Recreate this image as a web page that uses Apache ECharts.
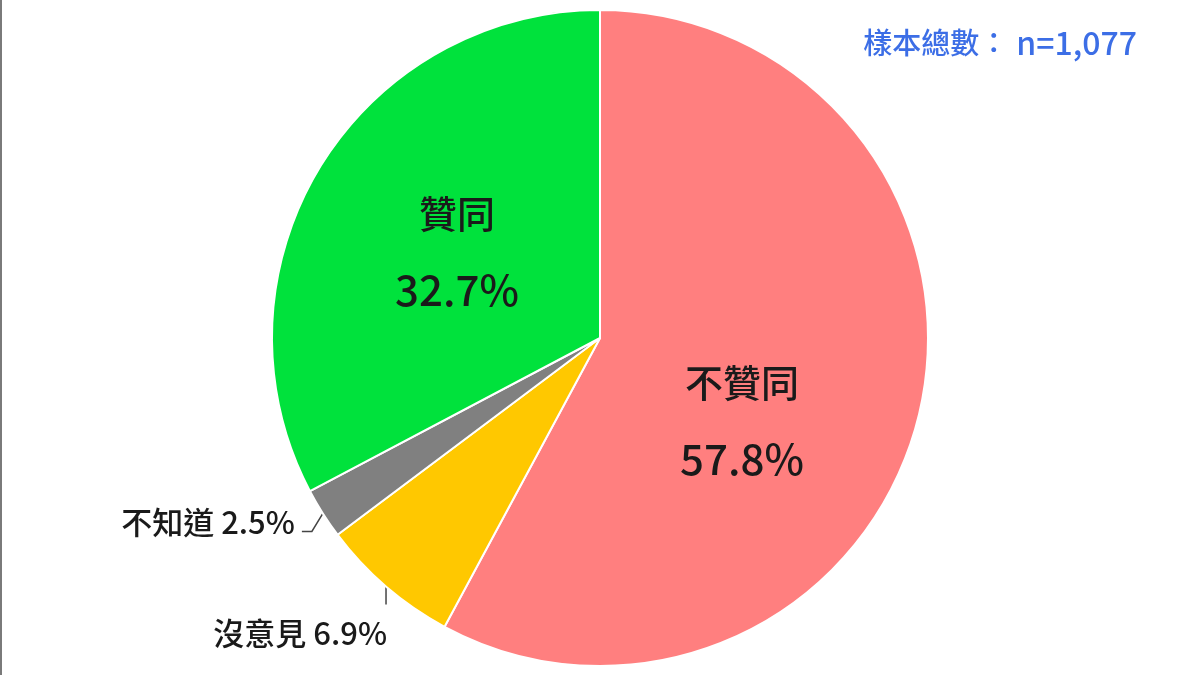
<!DOCTYPE html>
<html>
<head>
<meta charset="utf-8">
<script src="https://cdn.jsdelivr.net/npm/echarts@6/dist/echarts.min.js"></script>
<style>
  html, body { margin: 0; padding: 0; background: #fff; }
  #chart { width: 1200px; height: 675px; }
</style>
</head>
<body>
<div id="chart"></div>
<script>
const categories = ['不贊同', '沒意見', '不知道', '贊同'];
const shares = [57.8, 6.9, 2.5, 32.7];
const colors = ['#FF7F7F', '#FFC800', '#808080', '#00E23C'];
const insideLabels = ['不贊同', '贊同'];
const sampleLabel = '樣本總數：';
const sampleN = 'n=1,077';

const cjkFont = '"Noto Sans CJK TC", "Noto Sans", sans-serif';

const buildData = () => categories.map((name, i) => {
  const inside = insideLabels.includes(name);
  return {
    name: name,
    value: shares[i],
    itemStyle: { color: colors[i] },
    label: inside
      ? { position: 'inside', formatter: '{n|{b}}\n{v|{c}%}' }
      : { position: 'outside', formatter: '{b} {c}%', fontSize: 31, color: '#1a1a1a' },
    labelLine: { show: !inside }
  };
});

// nudge labels to where the original puts them
const layoutLabel = (params) => {
  const name = categories[params.dataIndex];
  if (name === '不贊同') {
    return { dx: -20, dy: 42 };
  }
  const pts = params.labelLinePoints;
  if (!pts) return {};
  const p0 = pts[0];
  if (name === '沒意見') {
    return {
      x: p0[0] + 1, y: p0[1] + 47, align: 'right', verticalAlign: 'middle',
      labelLinePoints: [[p0[0], p0[1]], [p0[0], p0[1] + 18], [p0[0], p0[1] + 18]]
    };
  }
  if (name === '不知道') {
    return {
      x: p0[0] - 28, y: p0[1] + 9, align: 'right', verticalAlign: 'middle',
      labelLinePoints: [[p0[0], p0[1]], [p0[0] - 11, p0[1] + 18], [p0[0] - 21, p0[1] + 18]]
    };
  }
  return {};
};

const getOption = () => {
  return {
    animation: false,
    title: {
      text: '{a|' + sampleLabel + '}{b|' + sampleN + '}',
      right: 58,
      top: 22,
      textStyle: {
        rich: {
          a: { fontFamily: cjkFont, fontSize: 29, fontWeight: 500, color: '#3C6EE6' },
          b: { fontFamily: cjkFont, fontSize: 32, fontWeight: 500, color: '#3C6EE6', padding: [0, 0, 0, 8] }
        }
      }
    },
    graphic: [
      { type: 'rect', left: 0, top: 0, shape: { width: 2, height: 675 }, style: { fill: '#7a7a7a' } }
    ],
    series: [
      {
        type: 'pie',
        center: [600, 338],
        radius: [0, 328],
        startAngle: 90,
        clockwise: true,
        avoidLabelOverlap: false,
        itemStyle: { borderColor: '#fff', borderWidth: 2 },
        label: {
          fontFamily: cjkFont,
          fontWeight: 500,
          color: '#1a1a1a',
          rich: {
            n: { fontFamily: cjkFont, fontSize: 38, fontWeight: 500, lineHeight: 76, color: '#1a1a1a' },
            v: { fontFamily: cjkFont, fontSize: 42, fontWeight: 500, lineHeight: 76, color: '#1a1a1a' }
          }
        },
        labelLine: {
          lineStyle: { color: '#444', width: 1.5 }
        },
        labelLayout: layoutLabel,
        emphasis: { disabled: true },
        data: buildData()
      }
    ]
  };
};

const initCharts = () => {
  const chart = echarts.init(document.getElementById('chart'));
  chart.setOption(getOption());
};

window.addEventListener('load', () => {
  initCharts();
});
</script>
</body>
</html>
